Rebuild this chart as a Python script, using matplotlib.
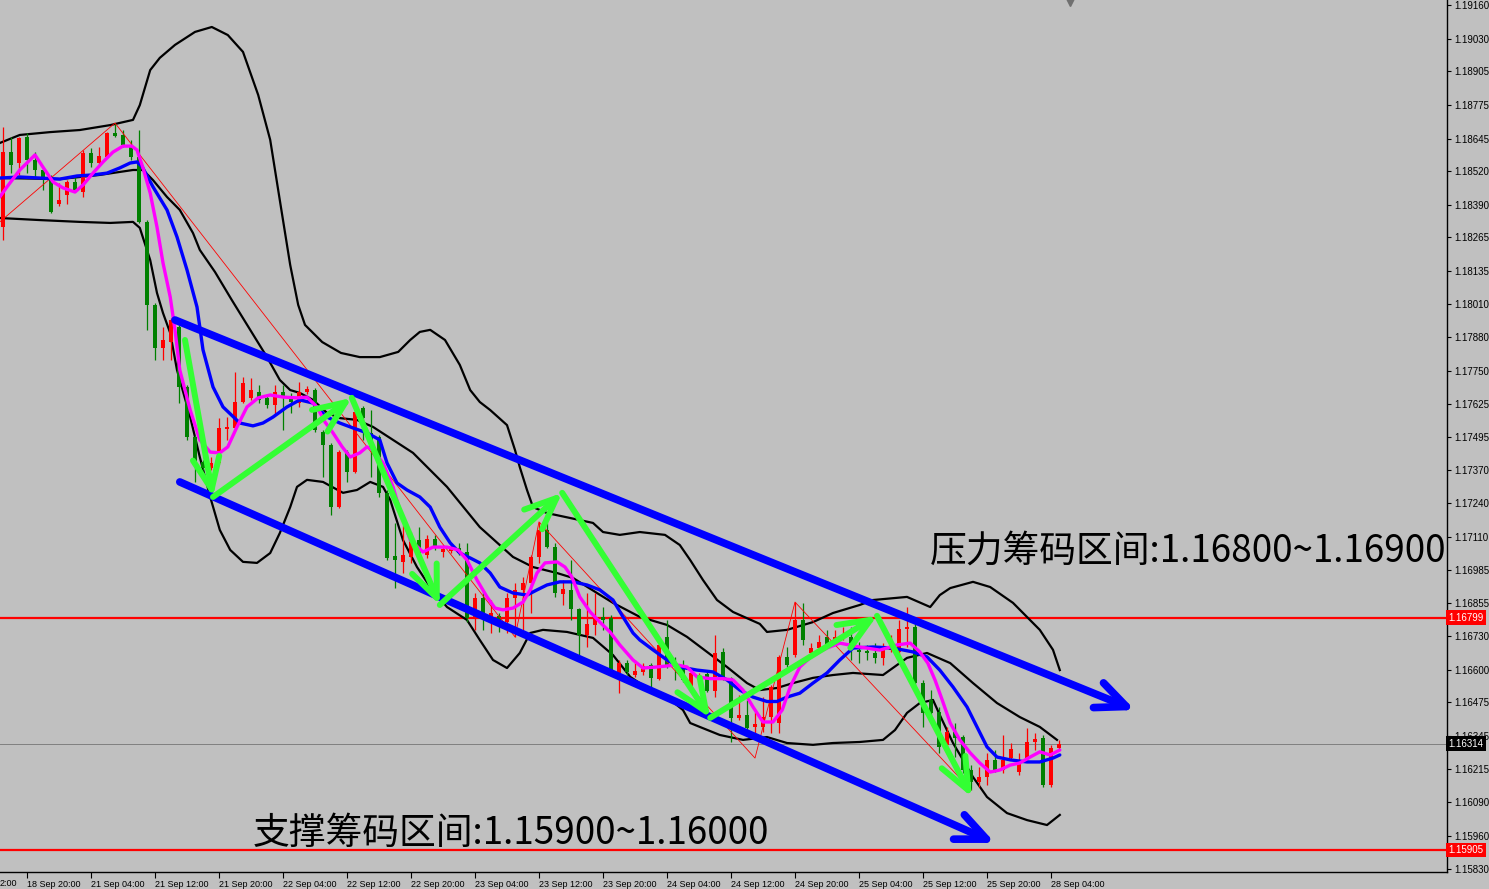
import matplotlib
matplotlib.use('Agg')
import matplotlib.pyplot as plt
import matplotlib.transforms as mtransforms

plt.rcParams['font.family'] = ['Liberation Sans', 'DejaVu Sans']

# ---------------- data (EURUSD H1) ----------------
opens = [1.18305,1.18594,1.18552,1.18652,1.18564,1.18525,1.18486,1.18394,1.18429,1.18479,
         1.18440,1.18591,1.18552,1.18575,1.18668,1.18660,1.18621,1.18575,1.18325,1.18005,
         1.17839,1.17862,1.17920,1.17689,1.17496,1.17400,1.17377,1.17396,1.17527,1.17531,
         1.17631,1.17646,1.17670,1.17646,1.17620,1.17670,1.17650,1.17627,1.17670,1.17677,
         1.17516,1.17465,1.17226,1.17438,1.17361,1.17608,1.17512,1.17496,1.17281,1.17038,
         1.17015,1.17034,1.17099,1.17042,1.17103,1.17053,1.17057,1.17069,1.17053,1.16799,
         1.16876,1.16803,1.16807,1.16783,1.16876,1.16907,1.16934,1.17034,1.17138,1.17072,
         1.16891,1.16907,1.16834,1.16733,1.16772,1.16803,1.16799,1.16587,1.16625,1.16579,
         1.16591,1.16618,1.16564,1.16726,1.16618,1.16618,1.16521,1.16560,1.16583,1.16518,
         1.16668,1.16568,1.16414,1.16425,1.16379,1.16379,1.16417,1.16394,1.16649,1.16656,
         1.16791,1.16664,1.16683,1.16726,1.16714,1.16722,1.16726,1.16676,1.16672,1.16664,
         1.16645,1.16676,1.16668,1.16756,1.16764,1.16548,1.16483,1.16437,1.16310,1.16360,
         1.16340,1.16213,1.16167,1.16186,1.16252,1.16213,1.16259,1.16205,1.16259,1.16321,
         1.16336,1.16155,1.16298]
highs = [1.18691,1.18652,1.18652,1.18668,1.18594,1.18537,1.18506,1.18475,1.18486,1.18498,
         1.18602,1.18610,1.18614,1.18671,1.18706,1.18679,1.18641,1.18679,1.18332,1.18013,
         1.17920,1.17955,1.17928,1.17697,1.17504,1.17408,1.17419,1.17569,1.17573,1.17747,
         1.17727,1.17724,1.17697,1.17658,1.17697,1.17697,1.17666,1.17708,1.17693,1.17685,
         1.17523,1.17473,1.17446,1.17446,1.17600,1.17616,1.17600,1.17504,1.17292,1.17165,
         1.17157,1.17130,1.17149,1.17119,1.17119,1.17080,1.17080,1.17088,1.17088,1.16895,
         1.16907,1.16868,1.16818,1.16895,1.16934,1.16957,1.17042,1.17169,1.17165,1.17088,
         1.16945,1.17022,1.16837,1.16895,1.16895,1.16841,1.16810,1.16637,1.16637,1.16637,
         1.16625,1.16625,1.16703,1.16791,1.16649,1.16637,1.16598,1.16587,1.16598,1.16733,
         1.16683,1.16572,1.16502,1.16483,1.16437,1.16494,1.16541,1.16656,1.16687,1.16860,
         1.16857,1.16703,1.16733,1.16753,1.16753,1.16764,1.16764,1.16706,1.16695,1.16703,
         1.16703,1.16733,1.16791,1.16841,1.16780,1.16560,1.16521,1.16456,1.16379,1.16394,
         1.16348,1.16232,1.16225,1.16279,1.16290,1.16348,1.16317,1.16279,1.16375,1.16356,
         1.16348,1.16310,1.16329]
lows = [1.18255,1.18513,1.18506,1.18513,1.18494,1.18448,1.18359,1.18386,1.18394,1.18440,
        1.18421,1.18537,1.18544,1.18571,1.18652,1.18614,1.18564,1.18321,1.17909,1.17793,
        1.17793,1.17793,1.17627,1.17485,1.17323,1.17369,1.17369,1.17392,1.17485,1.17523,
        1.17627,1.17639,1.17627,1.17608,1.17581,1.17523,1.17589,1.17612,1.17662,1.17516,
        1.17342,1.17196,1.17223,1.17323,1.17358,1.17485,1.17342,1.17265,1.17022,1.16914,
        1.16972,1.17011,1.17034,1.17030,1.17061,1.17034,1.17049,1.17042,1.16783,1.16753,
        1.16753,1.16741,1.16745,1.16741,1.16726,1.16753,1.16818,1.17011,1.17069,1.16880,
        1.16849,1.16791,1.16656,1.16687,1.16733,1.16753,1.16579,1.16510,1.16579,1.16572,
        1.16579,1.16533,1.16560,1.16606,1.16560,1.16552,1.16514,1.16548,1.16514,1.16494,
        1.16560,1.16321,1.16406,1.16367,1.16356,1.16360,1.16356,1.16356,1.16610,1.16649,
        1.16695,1.16656,1.16676,1.16687,1.16706,1.16714,1.16637,1.16625,1.16637,1.16625,
        1.16618,1.16668,1.16656,1.16687,1.16521,1.16379,1.16406,1.16279,1.16290,1.16263,
        1.16202,1.16136,1.16148,1.16155,1.16205,1.16202,1.16252,1.16194,1.16252,1.16290,
        1.16148,1.16148,1.16290]
closes = [1.18594,1.18544,1.18648,1.18564,1.18525,1.18490,1.18363,1.18409,1.18479,1.18448,
          1.18591,1.18552,1.18579,1.18668,1.18656,1.18621,1.18575,1.18325,1.18005,1.17839,
          1.17870,1.17947,1.17689,1.17496,1.17400,1.17377,1.17396,1.17531,1.17535,1.17631,
          1.17704,1.17677,1.17639,1.17620,1.17670,1.17646,1.17631,1.17670,1.17681,1.17523,
          1.17465,1.17226,1.17438,1.17361,1.17593,1.17569,1.17458,1.17281,1.17030,1.17022,
          1.17042,1.17099,1.17049,1.17103,1.17069,1.17065,1.17065,1.17049,1.16799,1.16876,
          1.16818,1.16818,1.16791,1.16876,1.16907,1.16934,1.17034,1.17138,1.17072,1.16895,
          1.16911,1.16834,1.16733,1.16776,1.16803,1.16791,1.16598,1.16625,1.16591,1.16595,
          1.16614,1.16568,1.16695,1.16610,1.16610,1.16560,1.16587,1.16579,1.16518,1.16664,
          1.16568,1.16414,1.16425,1.16375,1.16390,1.16417,1.16533,1.16649,1.16618,1.16791,
          1.16714,1.16683,1.16706,1.16695,1.16726,1.16733,1.16676,1.16668,1.16664,1.16645,
          1.16676,1.16714,1.16756,1.16764,1.16548,1.16433,1.16433,1.16302,1.16360,1.16336,
          1.16213,1.16167,1.16186,1.16252,1.16213,1.16252,1.16294,1.16252,1.16321,1.16333,
          1.16155,1.16298,1.16314]

# moving averages (bar position, price)
ma_fast_x = [-0.4,0.5,2.1,4.0,5.0,6.25,7.5,9.0,10.0,11.25,12.5,13.75,15.0,16.1,16.75,17.5,18.4,19.25,20.0,20.9,
             21.5,22.1,23.4,24.6,25.9,27.1,28.1,29.25,30.5,31.9,33.4,35.0,36.75,38.0,39.25,40.25,41.25,42.4,43.4,44.6,
             45.5,46.25,47.5,48.75,49.6,50.9,52.5,53.75,55.5,56.9,58.0,59.25,60.5,61.5,62.5,63.75,65.0,65.9,66.75,67.75,
             69.25,70.25,71.1,72.1,73.4,74.6,75.9,77.1,78.75,80.0,81.75,84.25,85.5,86.75,88.4,90.0,91.25,92.5,93.75,95.0,
             96.25,97.4,98.4,99.6,101.25,103.0,104.6,107.1,109.6,111.75,113.4,114.6,115.6,116.5,117.4,118.4,119.6,120.9,122.1,123.4,
             124.6,125.9,127.1,128.4,129.6,130.9,132.1]
ma_fast_y = [1.18421,1.18460,1.18525,1.18583,1.18536,1.18479,1.18456,1.18440,1.18467,1.18513,1.18556,1.18594,1.18617,1.18617,1.18602,1.18533,1.18436,1.18305,1.18167,1.18036,
             1.17909,1.17754,1.17600,1.17485,1.17438,1.17435,1.17458,1.17535,1.17612,1.17647,1.17658,1.17650,1.17647,1.17650,1.17612,1.17554,1.17512,1.17458,1.17419,1.17435,
             1.17458,1.17446,1.17396,1.17304,1.17215,1.17099,1.17053,1.17072,1.17072,1.17061,1.17022,1.16945,1.16880,1.16837,1.16830,1.16837,1.16860,1.16907,1.16972,1.17011,
             1.17015,1.16995,1.16957,1.16880,1.16822,1.16783,1.16744,1.16695,1.16637,1.16606,1.16610,1.16618,1.16610,1.16572,1.16565,1.16565,1.16560,1.16521,1.16456,1.16398,
             1.16398,1.16444,1.16533,1.16610,1.16656,1.16683,1.16702,1.16687,1.16675,1.16695,1.16702,1.16668,1.16625,1.16560,1.16483,1.16394,1.16329,1.16279,1.16240,1.16205,
             1.16213,1.16232,1.16240,1.16263,1.16283,1.16271,1.16290]
ma_slow_x = [-0.4,2.1,4.6,7.1,9.25,11.25,13.0,14.6,15.9,16.75,17.4,18.75,20.5,21.75,23.0,24.25,25.0,26.25,27.5,29.6,
             31.25,32.5,33.75,35.5,37.1,38.75,40.5,42.1,43.75,45.5,47.1,48.0,49.25,50.5,52.1,53.4,54.6,55.9,57.1,58.4,
             59.6,60.9,62.1,63.75,65.5,66.75,68.0,69.6,71.25,73.0,74.6,76.25,77.5,78.75,79.6,81.25,83.0,84.6,86.75,88.75,
             90.5,92.1,93.75,95.5,96.75,98.0,99.6,101.25,103.0,104.6,106.25,108.75,111.25,113.75,115.5,117.1,118.75,120.5,121.75,123.0,
             124.25,125.9,128.0,129.6,131.25,132.1]
ma_slow_y = [1.18494,1.18498,1.18494,1.18490,1.18502,1.18506,1.18513,1.18533,1.18552,1.18556,1.18537,1.18460,1.18371,1.18267,1.18140,1.17997,1.17832,1.17689,1.17612,1.17550,
             1.17539,1.17550,1.17573,1.17612,1.17639,1.17627,1.17573,1.17550,1.17531,1.17512,1.17485,1.17396,1.17319,1.17292,1.17265,1.17226,1.17149,1.17088,1.17049,1.17030,
             1.17011,1.16972,1.16918,1.16895,1.16887,1.16907,1.16926,1.16938,1.16938,1.16926,1.16907,1.16868,1.16803,1.16741,1.16714,1.16676,1.16637,1.16610,1.16598,1.16591,
             1.16560,1.16521,1.16494,1.16477,1.16477,1.16494,1.16509,1.16548,1.16587,1.16637,1.16683,1.16687,1.16683,1.16668,1.16649,1.16598,1.16533,1.16456,1.16379,1.16302,
             1.16263,1.16252,1.16244,1.16244,1.16259,1.16271]

# band lines
band_outer_up_x = [-0.4,2.1,5.9,9.6,13.4,16.25,17.1,18.4,19.6,21.5,24.0,26.1,28.1,30.0,31.9,33.4,34.6,35.9,36.9,37.75,
                   39.9,42.25,44.6,47.1,49.4,50.9,52.1,53.4,55.25,57.1,58.4,59.6,60.9,63.0,64.0,64.6,65.5,66.25,68.0,70.9,
                   73.75,75.0,77.1,79.6,82.75,84.6,85.9,87.5,89.25,91.25,94.6,95.5,98.0,101.25,103.75,107.1,108.75,113.0,115.9,117.1,
                   118.4,121.25,123.4,126.25,129.6,131.25,132.1]
band_outer_up_y = [1.18629,1.18660,1.18671,1.18679,1.18698,1.18718,1.18775,1.18910,1.18957,1.19007,1.19057,1.19076,1.19045,1.18980,1.18814,1.18641,1.18409,1.18159,1.18005,1.17928,
                   1.17862,1.17820,1.17804,1.17804,1.17824,1.17870,1.17901,1.17909,1.17870,1.17774,1.17677,1.17631,1.17600,1.17542,1.17446,1.17380,1.17292,1.17226,1.17203,1.17184,
                   1.17165,1.17130,1.17119,1.17130,1.17119,1.17080,1.17022,1.16945,1.16868,1.16822,1.16776,1.16745,1.16753,1.16783,1.16818,1.16849,1.16868,1.16880,1.16841,1.16887,
                   1.16914,1.16938,1.16918,1.16857,1.16753,1.16676,1.16598]
band_inner_up_x = [-0.4,7.1,12.1,16.25,17.5,18.75,20.5,22.1,23.75,24.6,26.5,28.6,30.9,33.0,34.6,35.9,37.1,38.75,40.5,42.1,
                   44.25,46.25,48.75,51.25,55.5,59.6,63.75,66.25,69.25,71.25,74.25,76.25,79.6,83.0,85.5,88.0,90.5,93.0,94.6,96.75,
                   98.75,101.25,103.75,106.25,110.0,113.0,115.5,118.4,121.25,124.25,127.1,129.6,131.75]
band_inner_up_y = [1.18494,1.18490,1.18506,1.18525,1.18525,1.18486,1.18421,1.18371,1.18282,1.18217,1.18132,1.18024,1.17909,1.17804,1.17716,1.17677,1.17666,1.17639,1.17589,1.17569,
                   1.17562,1.17535,1.17485,1.17435,1.17304,1.17149,1.17034,1.16995,1.16972,1.16953,1.16895,1.16857,1.16803,1.16772,1.16726,1.16668,1.16610,1.16548,1.16521,1.16529,
                   1.16548,1.16568,1.16579,1.16587,1.16579,1.16645,1.16664,1.16625,1.16548,1.16471,1.16417,1.16379,1.16329]
band_outer_lo_x = [-0.4,4.6,9.6,13.4,16.25,17.1,18.4,19.25,20.0,20.9,21.75,23.4,24.6,25.9,27.1,28.4,30.0,31.75,33.4,34.6,
                   35.9,36.75,38.0,40.0,42.5,44.25,45.9,47.5,48.4,50.0,51.75,53.4,55.5,58.0,59.6,61.25,63.0,64.6,65.9,67.5,
                   70.5,73.75,76.25,78.4,80.9,83.0,85.0,85.9,87.1,89.6,92.5,95.5,98.0,101.25,103.75,107.1,110.0,111.5,113.0,114.6,
                   116.25,117.1,118.75,120.0,121.25,123.0,125.5,128.0,130.5,132.1]
band_outer_lo_y = [1.18340,1.18332,1.18325,1.18321,1.18325,1.18302,1.18178,1.18051,1.17974,1.17897,1.17754,1.17573,1.17419,1.17265,1.17138,1.17061,1.17015,1.17011,1.17049,1.17126,
                   1.17226,1.17304,1.17331,1.17323,1.17281,1.17292,1.17323,1.17304,1.17254,1.17099,1.16995,1.16918,1.16841,1.16791,1.16714,1.16637,1.16606,1.16664,1.16741,1.16753,
                   1.16745,1.16722,1.16656,1.16572,1.16521,1.16494,1.16444,1.16394,1.16379,1.16348,1.16329,1.16340,1.16317,1.16310,1.16317,1.16321,1.16329,1.16367,1.16433,1.16471,
                   1.16483,1.16425,1.16317,1.16252,1.16186,1.16109,1.16047,1.16020,1.16001,1.16040]

# zigzag
zigzag_x = [-0.4, 14, 64, 67, 94, 99, 121]
zigzag_y = [1.18325, 1.18706, 1.16726, 1.17169, 1.16259, 1.16860, 1.16136]

# hand-drawn green swing arrows
swing_x = [22.75, 26.25, 43.6, 54.6, 69.9, 88.4, 109.25, 121.1]
swing_y = [1.17870, 1.17265, 1.17647, 1.16849, 1.17281, 1.16414, 1.16807, 1.16109]

# channel lines (start, end)
chan_up_x = [21.5, 141.5]
chan_up_y = [1.17947, 1.16444]
chan_lo_x = [22.1, 124.0]
chan_lo_y = [1.17323, 1.15932]

resist_level = 1.16799
support_level = 1.15905
last_price = 1.16314

ytick_vals = [1.19160,1.19030,1.18905,1.18775,1.18645,1.18520,1.18390,1.18265,1.18135,1.18010,
              1.17880,1.17750,1.17625,1.17495,1.17370,1.17240,1.17110,1.16985,1.16855,1.16730,
              1.16600,1.16475,1.16345,1.16215,1.16090,1.15960,1.15830]
# the first time label is cut by the left border in the reference; only "2:00" shows
xtick_labels = ['2:00','18 Sep 20:00','21 Sep 04:00','21 Sep 12:00','21 Sep 20:00','22 Sep 04:00',
                '22 Sep 12:00','22 Sep 20:00','23 Sep 04:00','23 Sep 12:00','23 Sep 20:00','24 Sep 04:00',
                '24 Sep 12:00','24 Sep 20:00','25 Sep 04:00','25 Sep 12:00','25 Sep 20:00','28 Sep 04:00']
xtick_bars = [-5,3,11,19,27,35,43,51,59,67,75,83,91,99,107,115,123,131]

text_resist = '压力筹码区间:1.16800~1.16900'
text_support = '支撑筹码区间:1.15900~1.16000'

# ---------------- drawing ----------------
BG = '#c0c0c0'
fig = plt.figure(figsize=(14.89, 8.89), dpi=100, facecolor=BG)
ax = fig.add_axes([0, 17/889, 1447/1489, 872/889])
ax.set_facecolor(BG)

ax.axhline(last_price, color='#808080', lw=0.7, zorder=1)
ax.axhline(resist_level, color='#ff0000', lw=1.6, zorder=2)
ax.axhline(support_level, color='#ff0000', lw=1.6, zorder=2)

for xs, ys in [(band_outer_up_x, band_outer_up_y), (band_inner_up_x, band_inner_up_y),
               (band_outer_lo_x, band_outer_lo_y)]:
    ax.plot(xs, ys, color='black', lw=1.6, zorder=2, solid_joinstyle='round')

for i, (o, h, l, c) in enumerate(zip(opens, highs, lows, closes)):
    col = '#ff0000' if c >= o else '#008000'
    ax.vlines(i, l, h, color=col, lw=0.9, zorder=3)
    ax.bar(i, max(abs(c - o), 0.00004), bottom=min(o, c), width=0.62,
           color=col, linewidth=0, zorder=3)

ax.plot(zigzag_x, zigzag_y, color='#ff0000', lw=0.6, zorder=3)
ax.plot(ma_slow_x, ma_slow_y, color='#0000ff', lw=2.4, zorder=4, solid_capstyle='round')
ax.plot(ma_fast_x, ma_fast_y, color='#ff00ff', lw=2.4, zorder=4, solid_capstyle='round')

for xs, ys in [(chan_up_x, chan_up_y), (chan_lo_x, chan_lo_y)]:
    ax.annotate('', xy=(xs[1], ys[1]), xytext=(xs[0], ys[0]),
                arrowprops=dict(arrowstyle='->,head_length=1.8,head_width=0.8',
                                color='#0000ff', lw=5.5, shrinkA=0, shrinkB=0,
                                mutation_scale=12), zorder=5)

for j in range(len(swing_x) - 1):
    ax.annotate('', xy=(swing_x[j + 1], swing_y[j + 1]), xytext=(swing_x[j], swing_y[j]),
                arrowprops=dict(arrowstyle='->,head_length=1.9,head_width=0.8',
                                color='#33ff33', lw=4.3, shrinkA=0, shrinkB=0,
                                mutation_scale=12), zorder=6)

# axes styling
for s in ['top', 'left']:
    ax.spines[s].set_visible(False)
for s in ['right', 'bottom']:
    ax.spines[s].set_color('black')
    ax.spines[s].set_linewidth(1.0)

ax.yaxis.tick_right()
ax.set_yticks(ytick_vals)
ax.set_yticklabels([f'{v:.5f}' for v in ytick_vals])
ax.tick_params(axis='y', direction='out', length=3, width=0.8, pad=2, labelsize=7, colors='black')
ax.set_xticks(xtick_bars[1:])
ax.set_xticklabels(xtick_labels[1:])
ax.tick_params(axis='x', direction='out', length=4, width=0.8, pad=2, labelsize=6.5, colors='black')
for lbl in ax.get_xticklabels():
    lbl.set_horizontalalignment('left')

# limits last (set_xticks would otherwise widen the view)
ax.set_xlim(-0.375, 180.5)
ax.set_ylim(1.15820, 1.19180)

# visible tail of the first time label at the left border
ax.text(0.0, -0.0075, xtick_labels[0], transform=ax.transAxes, fontsize=6.5,
        ha='left', va='top', clip_on=False)

trans = mtransforms.blended_transform_factory(ax.transAxes, ax.transData)
for val, fc in [(resist_level, '#ff0000'), (last_price, '#000000'), (support_level, '#ff0000')]:
    ax.text(1.0012, val, f'{val:.5f}', transform=trans, color='white', fontsize=7,
            va='center', ha='left', clip_on=False, zorder=10,
            bbox=dict(boxstyle='square,pad=0.25', fc=fc, ec='none'))

# small shift marker at the top
ax.plot([133.4], [1.19172], marker='v', ms=6, color='#707070', clip_on=False, zorder=7)

fig.text(930/1489, 1 - 551/889, text_resist, fontsize=26.5, color='black',
         family=['Noto Sans CJK SC', 'DejaVu Sans'], va='center', ha='left')
fig.text(253/1489, 1 - 833/889, text_support, fontsize=26.5, color='black',
         family=['Noto Sans CJK SC', 'DejaVu Sans'], va='center', ha='left')

fig.savefig('out.png', dpi=100, facecolor=BG)
